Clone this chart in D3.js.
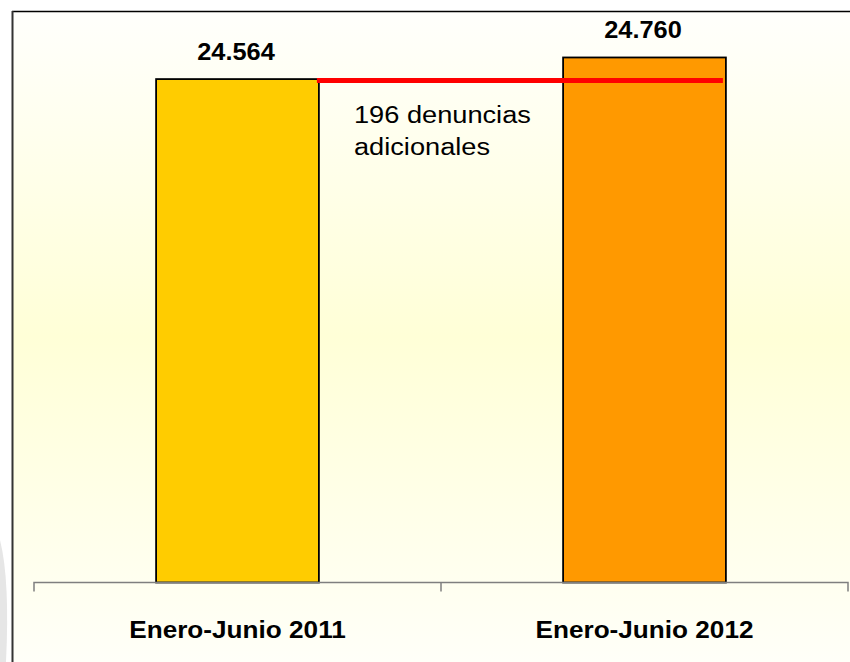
<!DOCTYPE html>
<html>
<head>
<meta charset="utf-8">
<script src="https://cdn.jsdelivr.net/npm/d3@7"></script>
<style>
  html, body { margin: 0; padding: 0; background: #ffffff; }
  svg { display: block; }
  text { font-family: "Liberation Sans", Arial, sans-serif; fill: #000; }
</style>
</head>
<body>
<div id="chart"></div>
<script>
const categories = ["Enero-Junio 2011", "Enero-Junio 2012"];
const values = [24564, 24760];
const valueLabels = ["24.564", "24.760"];
const barColors = ["#FFCC00", "#FF9900"];
const annotationLines = [(values[1] - values[0]) + " denuncias", "adicionales"];

const W = 850, H = 662;
const svg = d3.select("#chart").append("svg").attr("width", W).attr("height", H);

const defs = svg.append("defs");
const grad = defs.append("linearGradient").attr("id", "bg").attr("x1", 0).attr("y1", 0).attr("x2", 0).attr("y2", 1);
grad.append("stop").attr("offset", "0%").attr("stop-color", "#fffffc");
grad.append("stop").attr("offset", "50%").attr("stop-color", "#ffffd7");
grad.append("stop").attr("offset", "100%").attr("stop-color", "#fffff8");

// background panel
svg.append("rect").attr("x", 12).attr("y", 11).attr("width", W - 12).attr("height", H - 11).attr("fill", "url(#bg)");
// faint watermark shape at lower left
svg.append("path").attr("d", "M0,540 Q10,580 6,662 L0,662 Z").attr("fill", "#e6e6e6");
// frame lines (top and left)
svg.append("line").attr("x1", 12).attr("x2", W).attr("y1", 11.5).attr("y2", 11.5).attr("stroke", "#000").attr("stroke-width", 1.5);
svg.append("line").attr("x1", 12.5).attr("x2", 12.5).attr("y1", 11).attr("y2", H).attr("stroke", "#333").attr("stroke-width", 2);

const x = d3.scaleBand().domain(categories).range([34, 848]).padding(0);
const y = d3.scaleLinear().domain([20000, 25000]).range([582.5, 31]);
const barW = x.bandwidth() * 0.4;
const barX = d => x(d) + (x.bandwidth() - barW) / 2;

// bars
svg.selectAll("rect.bar").data(categories).enter().append("rect")
  .attr("class", "bar")
  .attr("x", d => barX(d))
  .attr("y", (d, i) => y(values[i]))
  .attr("width", barW)
  .attr("height", (d, i) => y(20000) - y(values[i]))
  .attr("fill", (d, i) => barColors[i])
  .attr("stroke", "#000")
  .attr("stroke-width", 1.8);

// x axis
const axis = d3.axisBottom(x).tickSize(9).tickFormat("");
const gx = svg.append("g").attr("transform", `translate(0,${y(20000)})`).call(axis);
gx.select(".domain").attr("stroke", "#7f7f7f").attr("stroke-width", 1.5).attr("d", `M34,9V0H848V9`);
gx.selectAll(".tick").remove();
// boundary tick between categories
svg.append("line").attr("x1", x(categories[1])).attr("x2", x(categories[1]))
  .attr("y1", y(20000)).attr("y2", y(20000) + 9).attr("stroke", "#7f7f7f").attr("stroke-width", 1.5);

// category labels
svg.selectAll("g.cat").data(categories).enter().append("g")
  .attr("class", "cat")
  .attr("transform", d => `translate(${x(d) + x.bandwidth() / 2},638) scale(1.09,1)`)
  .append("text")
  .attr("text-anchor", "middle")
  .attr("font-size", 24)
  .attr("font-weight", "bold")
  .text(d => d);

// value labels
svg.selectAll("g.val").data(categories).enter().append("g")
  .attr("class", "val")
  .attr("transform", (d, i) => `translate(${x(d) + x.bandwidth() / 2 - 1.5},${y(values[i]) - 19.5}) scale(1.08,1)`)
  .append("text")
  .attr("text-anchor", "middle")
  .attr("font-size", 23.5)
  .attr("font-weight", "bold")
  .text((d, i) => valueLabels[i]);

// difference line
const x1 = barX(categories[0]) + barW - 2;
const x2 = barX(categories[1]) + barW - 3;
svg.append("line")
  .attr("x1", x1).attr("x2", x2)
  .attr("y1", y(values[0]) + 1.5).attr("y2", y(values[0]) + 1.5)
  .attr("stroke", "#ff0000").attr("stroke-width", 5);

// annotation
const ann = svg.append("g").attr("transform", "translate(354,122.5) scale(1.11,1)");
ann.selectAll("text").data(annotationLines).enter().append("text")
  .attr("x", 0).attr("y", (d, i) => i * 33)
  .attr("font-size", 24.5)
  .text(d => d);
</script>
</body>
</html>
